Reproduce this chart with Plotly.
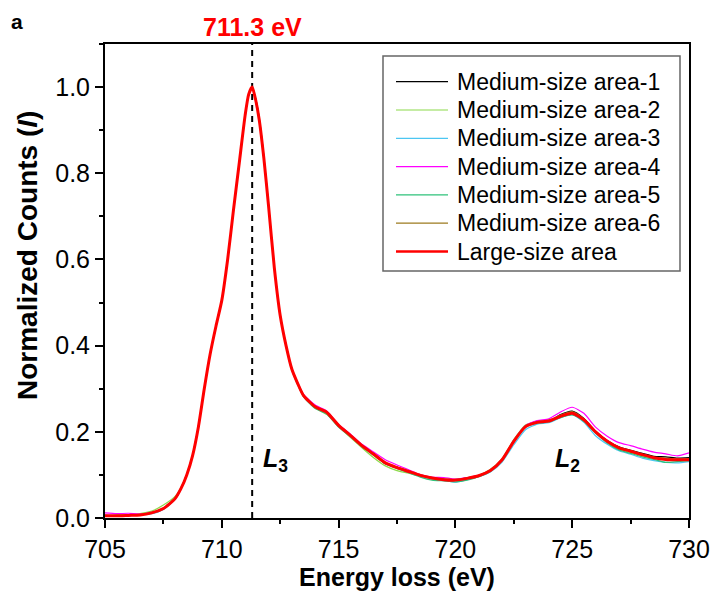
import plotly.graph_objects as go

energy = [705, 705.5, 706, 706.5, 707, 707.5, 708, 708.25, 708.5, 708.75,
          709, 709.25, 709.5, 709.75, 710, 710.25, 710.5, 710.75, 711, 711.15,
          711.3, 711.45, 711.6, 711.8, 712, 712.25, 712.5, 712.75, 713, 713.25,
          713.5, 714, 714.5, 715, 715.5, 716, 716.5, 717, 717.5, 718,
          718.5, 719, 719.5, 720, 720.5, 721, 721.5, 722, 722.5, 723,
          723.5, 724, 724.5, 725, 725.5, 726, 726.5, 727, 727.5, 728,
          728.5, 729, 729.5, 730]

medium_1 = [0.006,0.005,0.007,0.008,0.011,0.021,0.046,0.069,0.101,0.146,
            0.214,0.301,0.381,0.446,0.506,0.601,0.714,0.824,0.934,0.981,
            1.000,0.974,0.929,0.839,0.728,0.581,0.471,0.401,0.346,0.313,
            0.286,0.260,0.244,0.213,0.191,0.166,0.150,0.126,0.118,0.107,
            0.098,0.092,0.090,0.089,0.093,0.097,0.112,0.134,0.180,0.214,
            0.225,0.224,0.240,0.248,0.231,0.201,0.180,0.165,0.157,0.150,
            0.143,0.142,0.139,0.140]
medium_2 = [0.004,0.007,0.008,0.010,0.016,0.030,0.050,0.070,0.102,0.147,
            0.213,0.299,0.380,0.444,0.504,0.599,0.716,0.826,0.936,0.982,
            0.999,0.971,0.924,0.834,0.726,0.579,0.469,0.399,0.344,0.311,
            0.283,0.255,0.240,0.212,0.187,0.163,0.140,0.121,0.110,0.104,
            0.097,0.091,0.088,0.087,0.090,0.099,0.113,0.138,0.182,0.216,
            0.223,0.226,0.234,0.241,0.226,0.198,0.176,0.160,0.152,0.144,
            0.139,0.137,0.134,0.138]
medium_3 = [0.006,0.006,0.005,0.008,0.010,0.020,0.043,0.066,0.098,0.143,
            0.210,0.298,0.379,0.443,0.503,0.598,0.714,0.824,0.934,0.982,
            1.000,0.971,0.926,0.836,0.726,0.581,0.471,0.401,0.346,0.313,
            0.285,0.257,0.243,0.214,0.190,0.167,0.147,0.127,0.116,0.106,
            0.097,0.091,0.087,0.083,0.089,0.096,0.107,0.130,0.170,0.205,
            0.218,0.221,0.233,0.240,0.222,0.191,0.171,0.156,0.148,0.139,
            0.133,0.129,0.128,0.131]
medium_4 = [0.012,0.010,0.011,0.009,0.013,0.021,0.044,0.067,0.099,0.144,
            0.212,0.300,0.380,0.445,0.505,0.600,0.715,0.825,0.935,0.983,
            1.000,0.970,0.925,0.835,0.725,0.580,0.471,0.402,0.347,0.314,
            0.287,0.262,0.248,0.217,0.195,0.171,0.153,0.135,0.123,0.112,
            0.101,0.095,0.094,0.090,0.094,0.099,0.111,0.136,0.180,0.214,
            0.226,0.230,0.246,0.257,0.243,0.211,0.190,0.175,0.168,0.160,
            0.153,0.149,0.144,0.151]
medium_5 = [0.005,0.004,0.006,0.007,0.011,0.022,0.045,0.068,0.100,0.145,
            0.212,0.300,0.380,0.445,0.505,0.600,0.715,0.825,0.935,0.983,
            1.000,0.970,0.925,0.835,0.725,0.580,0.469,0.398,0.343,0.309,
            0.281,0.254,0.241,0.211,0.189,0.165,0.146,0.126,0.115,0.105,
            0.095,0.088,0.086,0.084,0.088,0.096,0.108,0.133,0.176,0.210,
            0.220,0.223,0.233,0.239,0.224,0.197,0.174,0.158,0.150,0.142,
            0.136,0.129,0.131,0.133]
medium_6 = [0.005,0.006,0.006,0.008,0.012,0.023,0.046,0.069,0.101,0.146,
            0.213,0.301,0.380,0.445,0.505,0.600,0.715,0.825,0.935,0.983,
            1.000,0.970,0.925,0.835,0.725,0.580,0.471,0.401,0.346,0.313,
            0.285,0.259,0.246,0.216,0.193,0.169,0.149,0.129,0.118,0.109,
            0.100,0.094,0.090,0.089,0.093,0.099,0.111,0.136,0.179,0.213,
            0.223,0.227,0.239,0.247,0.230,0.202,0.179,0.164,0.156,0.148,
            0.141,0.139,0.137,0.137]
large_area = [0.005,0.005,0.006,0.007,0.012,0.022,0.045,0.068,0.100,0.145,
              0.212,0.300,0.380,0.445,0.505,0.600,0.715,0.825,0.935,0.983,
              1.000,0.970,0.925,0.835,0.725,0.580,0.470,0.400,0.345,0.312,
              0.284,0.258,0.245,0.215,0.192,0.168,0.148,0.128,0.117,0.108,
              0.099,0.093,0.089,0.088,0.092,0.098,0.110,0.135,0.178,0.212,
              0.222,0.225,0.236,0.243,0.228,0.200,0.178,0.163,0.155,0.147,
              0.140,0.136,0.135,0.135]

series_names = ["Medium-size area-1", "Medium-size area-2", "Medium-size area-3",
                "Medium-size area-4", "Medium-size area-5", "Medium-size area-6",
                "Large-size area"]
series_values = [medium_1, medium_2, medium_3, medium_4, medium_5, medium_6, large_area]
series_colors = ["#000000", "#8CD94A", "#4CC6F2", "#FF00FF", "#2EC27A", "#9C7A1E", "#FF0000"]
series_widths = [1.2, 1.2, 1.2, 1.2, 1.2, 1.2, 3]

peak_energy = 711.3
x_ticks = [705, 710, 715, 720, 725, 730]
y_ticks = [0.0, 0.2, 0.4, 0.6, 0.8, 1.0]

FONT = "Arial, Liberation Sans, sans-serif"

# plot-area geometry in pixels (for placing legend box and labels)
L, R, T, B = 105, 689, 44, 518
def px2x(px):
    return (px - L) / (R - L)
def py2y(py):
    return (B - py) / (B - T)

fig = go.Figure()
for name, vals, col, w in zip(series_names, series_values, series_colors, series_widths):
    fig.add_trace(go.Scatter(x=energy, y=vals, mode="lines", name=name, showlegend=False,
                             line=dict(color=col, width=w, shape="spline", smoothing=0.6)))

fig.add_shape(type="line", x0=peak_energy, x1=peak_energy, y0=0, y1=1.1,
              xref="x", yref="y", line=dict(color="black", width=2, dash="6px,5px"),
              layer="below")

# legend drawn as box + line samples + labels
fig.add_shape(type="rect", xref="paper", yref="paper",
              x0=px2x(383), x1=px2x(680), y0=py2y(271), y1=py2y(56),
              line=dict(color="#666666", width=1.5), fillcolor="white", layer="above")
for i, (name, col, w) in enumerate(zip(series_names, series_colors, series_widths)):
    yc = py2y(81.7 + 28.3 * i)
    fig.add_shape(type="line", xref="paper", yref="paper",
                  x0=px2x(396), x1=px2x(448), y0=yc, y1=yc,
                  line=dict(color=col, width=w if w < 2 else 2.5), layer="above")
    fig.add_annotation(x=px2x(455), y=yc, xref="paper", yref="paper",
                       xanchor="left", yanchor="middle", text=name, showarrow=False,
                       font=dict(family=FONT, size=23, color="black"))

fig.add_annotation(x=peak_energy, y=py2y(27), xref="x", yref="paper",
                   xanchor="center", yanchor="middle",
                   text="<b>711.3 eV</b>", showarrow=False,
                   font=dict(family=FONT, size=25, color="#FF0000"))
fig.add_annotation(x=px2x(9), y=py2y(22), xref="paper", yref="paper",
                   xanchor="left", yanchor="middle",
                   text="<b>a</b>", showarrow=False,
                   font=dict(family=FONT, size=21, color="black"))
fig.add_annotation(x=712.3, y=0.135, xref="x", yref="y",
                   text="<b><i>L</i><sub>3</sub></b>", showarrow=False,
                   font=dict(family=FONT, size=25, color="black"))
fig.add_annotation(x=724.8, y=0.135, xref="x", yref="y",
                   text="<b><i>L</i><sub>2</sub></b>", showarrow=False,
                   font=dict(family=FONT, size=25, color="black"))
# y-axis title
fig.add_annotation(x=px2x(27), y=py2y(256), xref="paper", yref="paper",
                   xanchor="center", yanchor="middle", textangle=-90,
                   text="<b>Normalized Counts (<i>I</i>)</b>", showarrow=False,
                   font=dict(family=FONT, size=28, color="black"))

axis_common = dict(showline=True, linecolor="black", linewidth=2, mirror=True,
                   ticks="outside", ticklen=8, tickwidth=1.5, tickcolor="black",
                   showgrid=False, zeroline=False,
                   tickfont=dict(family=FONT, size=25, color="black"))

fig.update_xaxes(range=[705, 730], tickvals=x_ticks, ticktext=[str(v) for v in x_ticks],
                 minor=dict(ticks="outside", ticklen=4, dtick=2.5, tick0=705,
                            tickcolor="black", tickwidth=1.5),
                 title=dict(text="<b>Energy loss (eV)</b>", standoff=4,
                            font=dict(family=FONT, size=25, color="black")),
                 **axis_common)
fig.update_yaxes(range=[0, 1.1], tickvals=y_ticks, ticktext=[f"{v:.1f}" for v in y_ticks],
                 minor=dict(ticks="outside", ticklen=4, dtick=0.1, tick0=0,
                            tickcolor="black", tickwidth=1.5),
                 **axis_common)

fig.update_layout(
    width=714, height=592,
    margin=dict(l=L, r=714 - R, t=T, b=592 - B, autoexpand=False),
    plot_bgcolor="white", paper_bgcolor="white",
    font=dict(family=FONT, color="black"),
    showlegend=False,
)

fig.write_html("out.html", config={"displayModeBar": False},
               post_script="document.body.style.margin='0px';")
